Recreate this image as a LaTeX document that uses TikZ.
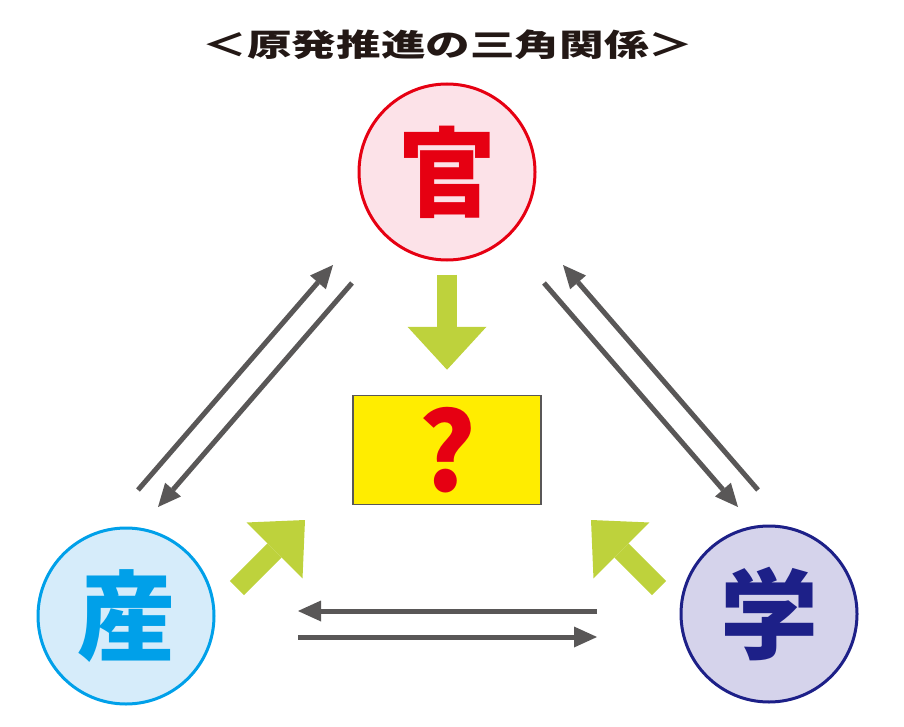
\documentclass[tikz,border=0pt]{standalone}
\usepackage{fontspec}
\usepackage{graphicx}
\usetikzlibrary{arrows.meta}
\newfontfamily\cjk{Noto Sans CJK JP}
\definecolor{kanred}{RGB}{230,0,18}
\definecolor{kanfill}{RGB}{252,226,232}
\definecolor{sanblue}{RGB}{0,160,233}
\definecolor{sanfill}{RGB}{214,236,250}
\definecolor{gakunavy}{RGB}{29,32,136}
\definecolor{gakufill}{RGB}{213,211,235}
\definecolor{arrowgray}{RGB}{89,87,87}
\definecolor{leaf}{RGB}{190,210,60}
\definecolor{qyellow}{RGB}{255,237,0}
\definecolor{inkblack}{RGB}{35,24,21}
\tikzset{sector/.style = {circle, line width=3pt, minimum size=176pt, inner sep=0pt,
                          font=\cjk\bfseries\fontsize{98}{98}\selectfont},
         flow/.style = {draw=arrowgray, line width=5pt,
                        -{Triangle[length=23pt, width=21pt, line width=0pt]}},
         push/.style = {draw=leaf, line width=20pt,
                        -{Triangle[length=43pt, width=79pt, line width=0pt]}}}

\begin{document}
\begin{tikzpicture}[x=1pt, y=-1pt]
      \useasboundingbox (0, 0) rectangle (904, 727);
      \node (title) at (448, 45) [text=inkblack]
        {\scalebox{1.44}[1]{\cjk\bfseries\fontsize{31}{31}\selectfont ＜原発推進の三角関係＞}};
      \node (kan) at (447, 172) [sector, draw=kanred, fill=kanfill, text=kanred] {官};
      \node (san) at (126, 616) [sector, draw=sanblue, fill=sanfill, text=sanblue] {産};
      \node (gaku) at (769, 614) [sector, draw=gakunavy, fill=gakufill, text=gakunavy] {学};
      \node (qbox) at (447, 450) [draw=arrowgray, line width=1.5pt, fill=qyellow,
                                  minimum width=188pt, minimum height=109pt,
                                  text=kanred, font=\cjk\bfseries\fontsize{108}{108}\selectfont] {?};
      % green arrows into the box
      \draw [push, shorten <=13pt, shorten >=25pt] (kan) -- (qbox);
      \coordinate (sanpush) at (237, 588);
      \coordinate (sanhead) at (305, 520);
      \coordinate (gakupush) at (659, 588);
      \coordinate (gakuhead) at (591, 520);
      \draw [push] (sanpush) -- (sanhead);
      \draw [push] (gakupush) -- (gakuhead);
      % gray arrows between the three
      \coordinate (sk1) at (138, 490);
      \coordinate (sk2) at (333, 265);
      \coordinate (ks1) at (352, 283);
      \coordinate (ks2) at (158, 507);
      \coordinate (gk1) at (758, 490);
      \coordinate (gk2) at (563, 265);
      \coordinate (kg1) at (544, 283);
      \coordinate (kg2) at (738, 507);
      \coordinate (gs1) at (597, 611);
      \coordinate (gs2) at (298, 611);
      \coordinate (sg1) at (298, 637);
      \coordinate (sg2) at (597, 637);
      \draw [flow] (sk1) -- (sk2);
      \draw [flow] (ks1) -- (ks2);
      \draw [flow] (gk1) -- (gk2);
      \draw [flow] (kg1) -- (kg2);
      \draw [flow] (gs1) -- (gs2);
      \draw [flow] (sg1) -- (sg2);
\end{tikzpicture}
\end{document}
